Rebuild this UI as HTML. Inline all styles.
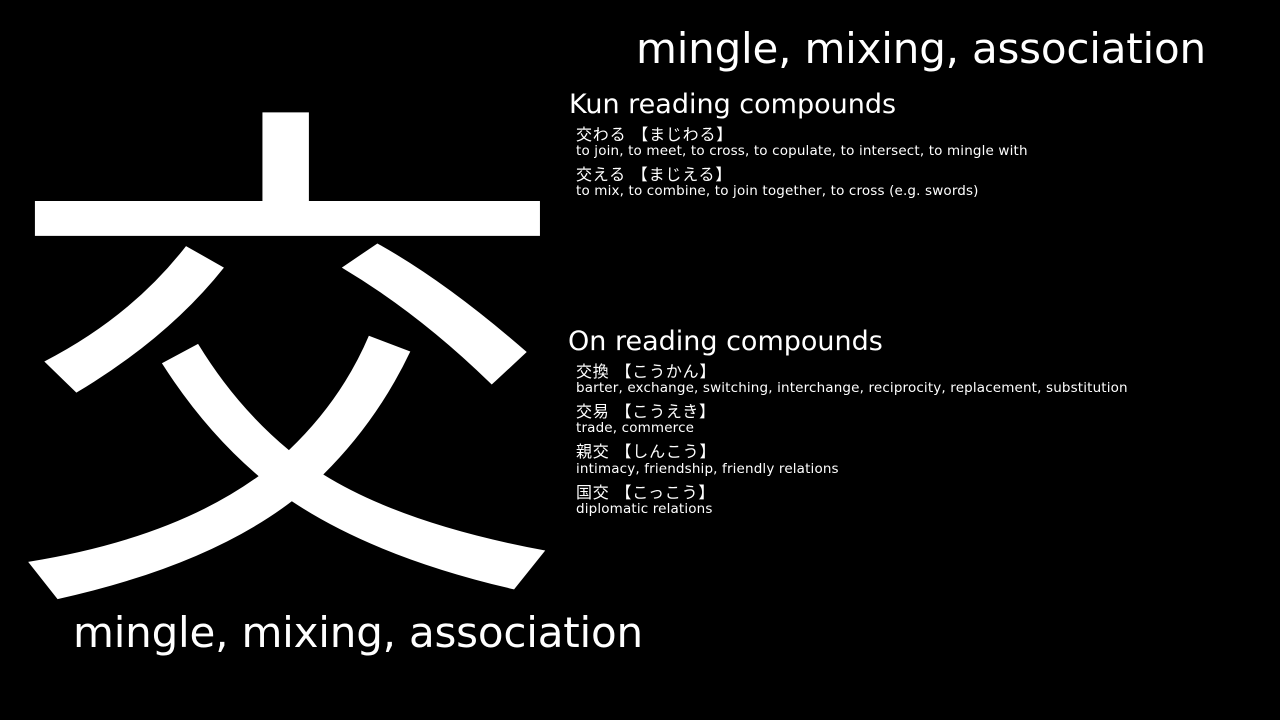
<!DOCTYPE html>
<html><head><meta charset="utf-8"><style>
html,body{margin:0;padding:0;background:#000;}
body{width:1280px;height:720px;position:relative;overflow:hidden;color:#fff;font-family:"DejaVu Sans","Noto Sans CJK JP",sans-serif;}
.a{position:absolute;white-space:nowrap;line-height:1;}
.kanji{left:-5px;top:60px;width:590px;text-align:center;font-size:580px;font-family:"IPAGothic","Noto Sans CJK JP",sans-serif;transform-origin:289px 350px;transform:translate(-2.5px,0px) scale(1.038,0.926);}
.title{font-size:42px;letter-spacing:-0.2px;}
.head{font-size:27px;letter-spacing:0px;}
.word{font-size:16px;letter-spacing:0.8px;}
.def{font-size:13.5px;letter-spacing:0.15px;}
</style></head><body>
<div class="a kanji">交</div>
<div class="a title" style="left:636px;top:28px">mingle, mixing, association</div>
<div class="a title" style="left:73px;top:612px">mingle, mixing, association</div>

<div class="a head" style="left:569px;top:91px">Kun reading compounds</div>
<div class="a word" style="left:576px;top:127px">交わる 【まじわる】</div>
<div class="a def" style="left:576px;top:145px">to join, to meet, to cross, to copulate, to intersect, to mingle with</div>
<div class="a word" style="left:576px;top:167px">交える 【まじえる】</div>
<div class="a def" style="left:576px;top:185px">to mix, to combine, to join together, to cross (e.g. swords)</div>

<div class="a head" style="left:568px;top:328px">On reading compounds</div>
<div class="a word" style="left:576px;top:364px">交換 【こうかん】</div>
<div class="a def" style="left:576px;top:382px">barter, exchange, switching, interchange, reciprocity, replacement, substitution</div>
<div class="a word" style="left:576px;top:404px">交易 【こうえき】</div>
<div class="a def" style="left:576px;top:422px">trade, commerce</div>
<div class="a word" style="left:576px;top:444px">親交 【しんこう】</div>
<div class="a def" style="left:576px;top:463px">intimacy, friendship, friendly relations</div>
<div class="a word" style="left:576px;top:485px">国交 【こっこう】</div>
<div class="a def" style="left:576px;top:503px">diplomatic relations</div>
</body></html>
